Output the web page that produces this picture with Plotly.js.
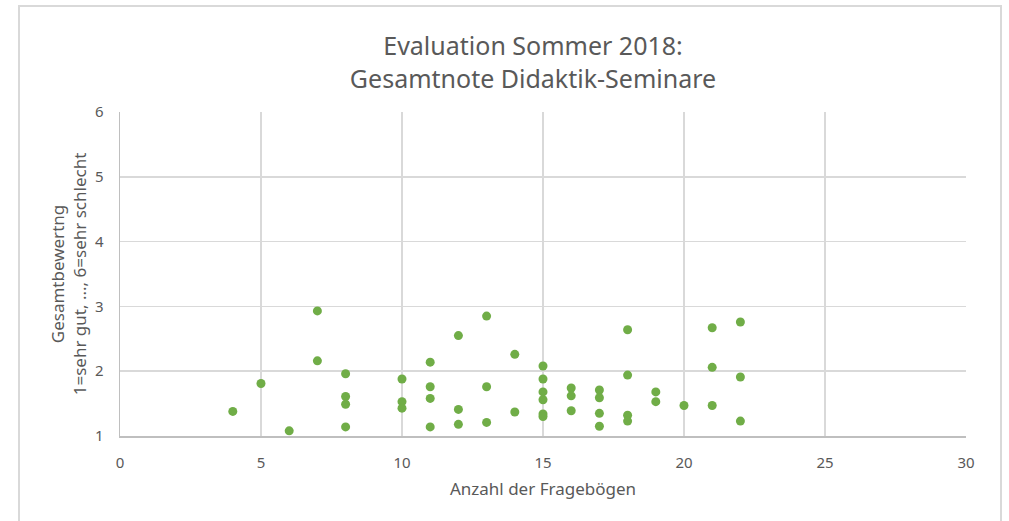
<!DOCTYPE html>
<html>
<head>
<meta charset="utf-8">
<script src="https://cdn.plot.ly/plotly-3.0.1.min.js"></script>
<style>
  html, body { margin:0; padding:0; background:#fff; }
  #wrap { position:relative; width:1009px; height:521px; overflow:hidden; }
  #chart { width:1009px; height:521px; }
  #frame { position:absolute; left:18px; top:5px; width:980px; height:540px;
           border:2px solid #d9d9d9; pointer-events:none; }
</style>
</head>
<body>
<div id="wrap"><div id="chart"></div><div id="frame"></div></div>
<script>
// Anzahl der Fragebögen (x) and Gesamtnote (y), one entry per seminar
const anzahlFrageboegen = [
  4, 5, 6, 7, 7,
  8, 8, 8, 8,
  10, 10, 10,
  11, 11, 11, 11,
  12, 12, 12,
  13, 13, 13,
  14, 14,
  15, 15, 15, 15, 15, 15,
  16, 16, 16,
  17, 17, 17, 17,
  18, 18, 18, 18,
  19, 19,
  20,
  21, 21, 21,
  22, 22, 22
];
const gesamtnote = [
  1.38, 1.81, 1.08, 2.93, 2.16,
  1.96, 1.61, 1.49, 1.14,
  1.88, 1.53, 1.43,
  2.14, 1.76, 1.58, 1.14,
  2.55, 1.41, 1.18,
  2.85, 1.76, 1.21,
  2.26, 1.37,
  2.08, 1.88, 1.68, 1.56, 1.34, 1.30,
  1.74, 1.62, 1.39,
  1.71, 1.59, 1.35, 1.15,
  2.64, 1.94, 1.32, 1.23,
  1.68, 1.53,
  1.47,
  2.67, 2.06, 1.47,
  2.76, 1.91, 1.23
];
const xTicks = [0, 5, 10, 15, 20, 25, 30];
const yTicks = [1, 2, 3, 4, 5, 6];

const FONT = 'Noto Sans, Roboto, sans-serif';
const trace = {
  type: 'scatter', mode: 'markers',
  x: anzahlFrageboegen, y: gesamtnote,
  marker: { color: '#70ad47', size: 9, line: { width: 0 } },
  hoverinfo: 'x+y'
};
const layout = {
  width: 1009, height: 521,
  margin: { l: 120, r: 43, t: 112, b: 85 },
  paper_bgcolor: '#ffffff', plot_bgcolor: '#ffffff',
  font: { family: FONT, color: '#595959', size: 15 },
  showlegend: false,
  title: {
    text: 'Evaluation Sommer 2018:<br>Gesamtnote Didaktik-Seminare',
    font: { family: FONT, size: 25, color: '#595959' },
    x: 533/1009, xanchor: 'center', xref: 'container',
    y: 1 - 55/521, yanchor: 'middle', yref: 'container'
  },
  xaxis: {
    range: [0, 30], tickvals: xTicks, ticktext: xTicks.map(String),
    showgrid: true, gridcolor: '#d9d9d9', gridwidth: 1.5,
    zeroline: false, showline: true, linecolor: '#bfbfbf', linewidth: 1.5,
    ticks: '', ticklabelstandoff: 12,
    tickfont: { family: FONT, size: 15, color: '#595959' },
    title: { text: 'Anzahl der Fragebögen', standoff: 12,
             font: { family: FONT, size: 17, color: '#595959' } },
    fixedrange: true
  },
  yaxis: {
    range: [1, 6], tickvals: yTicks, ticktext: yTicks.map(String),
    showgrid: true, gridcolor: '#d9d9d9', gridwidth: 1.5,
    zeroline: false, showline: true, linecolor: '#bfbfbf', linewidth: 1.5,
    ticks: '', ticklabelstandoff: 12,
    tickfont: { family: FONT, size: 15, color: '#595959' },
    title: { text: 'Gesamtbewertng<br>1=sehr gut, ..., 6=sehr schlecht', standoff: 4,
             font: { family: FONT, size: 17, color: '#595959' } },
    fixedrange: true
  }
};
Plotly.newPlot('chart', [trace], layout, { displayModeBar: false, staticPlot: true });
</script>
</body>
</html>
